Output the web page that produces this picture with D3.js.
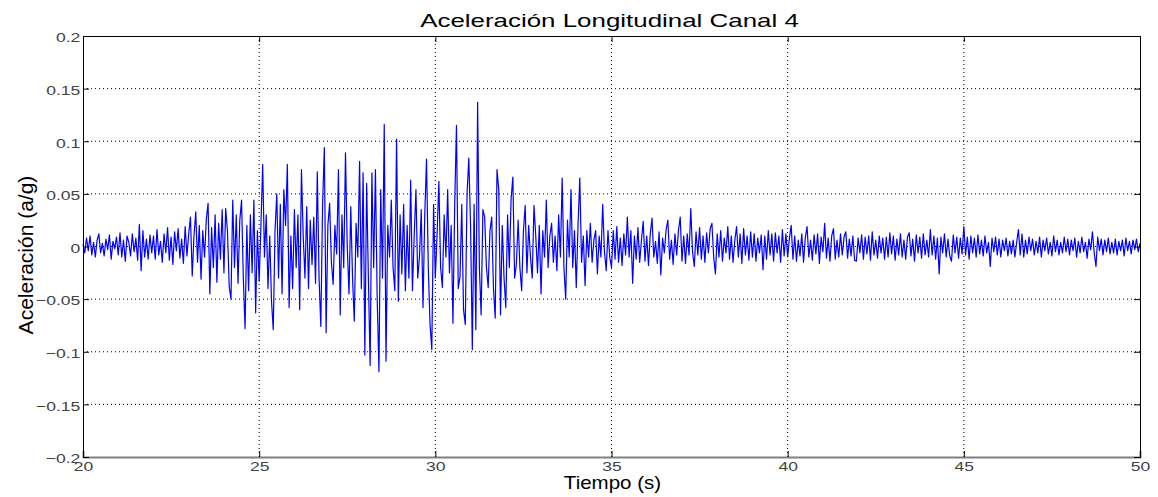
<!DOCTYPE html>
<html>
<head>
<meta charset="utf-8">
<style>
  body { margin: 0; background: #fff; }
  text { font-family: "Liberation Sans", Arial, sans-serif; }
</style>
<script src="https://d3js.org/d3.v7.min.js"></script>
</head>
<body>
<svg width="1158" height="497"></svg>
<script>
// datos, muestreo cada 0.05 s desde t = 20 s
var t0 = 20, dt = 0.05;
var s20 = [0.002,-0.006,0.008,-0.004,0.010,-0.008,0.004,-0.010,0.006,0.012,-0.006,0.003,-0.009,0.007,-0.003,0.011,-0.012,0.005,-0.002,0.009,
           -0.008,0.013,-0.010,0.006,-0.014,0.010,0.004,-0.009,0.012,-0.005,0.008,-0.013,0.021,-0.023,0.015,-0.010,0.007,-0.012,0.011,-0.006,
           0.010,-0.012,0.016,-0.008,0.005,-0.015,0.012,-0.006,0.018,-0.013,0.009,-0.017,0.014,-0.004,0.017,-0.011,0.007,-0.016,0.019,-0.009,
           0.012,0.028,-0.028,0.010,0.033,-0.015,0.020,-0.031,0.015,-0.010,0.026,0.041,-0.045,0.018,-0.020,0.030,-0.034,0.022,-0.012,0.035,
           -0.025,0.036,0.015,-0.038,-0.050,0.044,-0.020,0.030,-0.035,0.025,0.044,-0.030,-0.078,0.020,-0.042,0.030,-0.025,0.044,-0.063,0.015];
var s25 = [-0.033,0.020,0.078,-0.010,0.030,-0.040,0.010,-0.052,-0.079,0.015,0.050,-0.030,0.040,-0.045,0.054,0.020,0.078,-0.058,0.010,-0.040,
           0.035,-0.020,0.030,-0.060,0.073,0.010,-0.030,0.038,-0.040,0.025,-0.017,0.028,-0.035,0.071,-0.030,-0.076,0.040,0.094,-0.082,0.020,
           0.041,-0.015,-0.036,0.020,-0.007,0.073,-0.065,0.030,-0.020,0.089,0.000,-0.045,0.038,-0.030,-0.071,0.022,-0.010,0.081,-0.040,0.070,
           -0.103,0.060,-0.030,-0.113,0.070,-0.020,0.073,-0.050,-0.119,0.054,-0.030,0.116,-0.109,0.020,-0.010,0.044,-0.020,-0.042,0.102,-0.052,
           0.030,-0.026,0.040,-0.042,0.020,-0.030,0.063,-0.042,0.010,0.054,-0.030,-0.010,0.035,-0.058,0.030,0.083,-0.020,-0.074,-0.098,0.040];
var s30 = [-0.030,0.012,0.062,-0.020,-0.039,0.030,-0.010,0.054,-0.025,0.020,-0.073,0.040,0.115,-0.040,-0.029,0.040,-0.060,-0.074,0.050,0.084,
           0.020,-0.098,0.040,-0.079,0.137,-0.020,-0.065,0.035,0.028,-0.020,-0.039,0.015,0.028,-0.040,-0.068,0.073,0.054,-0.065,0.020,-0.030,
           -0.058,0.030,-0.020,0.045,0.066,-0.030,-0.017,0.025,-0.020,-0.042,0.015,0.039,-0.025,0.020,-0.010,-0.030,0.039,0.010,-0.025,0.020,
           -0.045,0.015,-0.010,0.044,-0.020,0.010,0.022,-0.015,0.010,-0.023,0.030,-0.010,0.065,-0.020,-0.050,0.025,-0.010,0.054,-0.020,0.015,
           -0.039,0.020,0.065,-0.015,0.010,-0.037,0.015,-0.010,0.022,-0.015,0.006,0.015,-0.026,0.010,-0.010,0.040,-0.005,-0.023,0.015,-0.010];
var s35 = [-0.020,0.015,-0.012,0.019,-0.015,0.008,-0.018,0.012,-0.008,0.028,-0.010,0.015,-0.035,0.010,-0.012,0.018,-0.015,0.006,0.024,-0.014,
           0.010,-0.018,0.012,0.027,-0.010,0.005,-0.016,0.014,-0.027,0.008,-0.006,0.016,0.025,-0.012,0.006,-0.017,0.012,-0.008,0.015,0.028,
           -0.014,0.010,-0.016,0.012,-0.008,0.036,-0.005,-0.019,0.014,-0.008,0.018,-0.012,0.010,-0.015,0.013,-0.006,0.017,0.022,-0.010,-0.026,
           0.012,-0.010,0.015,-0.014,0.008,-0.006,0.019,-0.012,0.010,-0.015,0.006,0.019,-0.010,0.012,-0.016,0.017,-0.008,0.010,-0.013,0.014,
           -0.010,0.012,-0.014,0.008,-0.006,0.011,-0.022,0.010,-0.012,0.015,-0.008,0.012,-0.014,0.013,-0.006,0.010,-0.015,0.016,-0.009,0.012];
var s40 = [-0.010,0.008,0.020,-0.012,0.010,-0.014,0.006,-0.009,0.012,-0.015,0.008,0.019,-0.010,0.006,-0.013,0.011,-0.007,0.012,-0.016,0.009,
           -0.005,0.022,-0.011,0.008,-0.014,0.010,0.017,-0.012,0.006,-0.010,0.012,-0.008,0.009,0.014,-0.011,0.007,-0.009,0.010,-0.013,-0.014,
           0.008,-0.006,0.011,-0.012,0.009,-0.007,0.010,-0.013,0.014,-0.008,0.006,-0.011,0.010,-0.006,0.008,-0.012,0.009,-0.010,0.013,-0.007,
           0.010,-0.013,0.007,-0.008,0.012,-0.010,0.006,-0.012,0.009,0.013,-0.009,0.007,-0.014,0.011,-0.006,0.009,-0.011,0.012,-0.008,0.006,
           -0.010,0.016,-0.008,0.010,-0.012,0.008,-0.026,0.009,-0.006,0.012,-0.010,0.007,-0.009,-0.014,0.011,-0.006,0.009,-0.011,0.008,-0.007];
var s45 = [0.019,-0.008,0.009,-0.012,0.010,-0.006,0.008,-0.010,0.011,-0.007,0.006,-0.009,0.010,-0.006,0.004,-0.019,0.008,-0.005,0.009,-0.008,
           0.007,-0.010,0.006,-0.004,0.008,-0.009,0.005,-0.007,0.006,-0.010,0.004,0.016,-0.008,0.012,-0.010,0.006,-0.007,0.009,-0.004,0.007,
           -0.008,0.005,-0.006,0.009,-0.010,0.006,-0.004,0.008,-0.007,0.004,-0.009,0.010,-0.005,0.006,-0.008,0.004,-0.006,0.009,-0.005,0.007,
           -0.008,0.006,-0.004,0.008,-0.010,0.005,-0.006,0.009,-0.005,0.004,-0.011,0.007,-0.003,0.014,-0.006,-0.019,0.009,-0.004,0.007,-0.008,
           0.006,-0.005,0.008,-0.007,0.004,-0.006,0.007,-0.008,0.005,-0.004,0.006,-0.009,0.008,-0.004,0.005,-0.007,0.006,-0.003,0.007,-0.005,
           0.003];
var aceleracion = s20.concat(s25, s30, s35, s40, s45);

var xTicks = [20, 25, 30, 35, 40, 45, 50];
var yTicks = [-0.2, -0.15, -0.1, -0.05, 0, 0.05, 0.1, 0.15, 0.2];

var svg = d3.select("svg"),
    margin = {top: 36, right: 18, bottom: 40, left: 83},
    width = +svg.attr("width") - margin.left - margin.right,
    height = +svg.attr("height") - margin.top - margin.bottom;

var x = d3.scaleLinear().domain([20, 50]).range([0, width]);
var y = d3.scaleLinear().domain([-0.2, 0.2]).range([height, 0]);

var g = svg.append("g")
    .attr("transform", "translate(" + margin.left + "," + margin.top + ")");

// rejilla punteada
g.append("g").selectAll("line")
  .data(xTicks.slice(1, -1))
  .enter().append("line")
  .attr("x1", function(d) { return x(d); })
  .attr("x2", function(d) { return x(d); })
  .attr("y1", 0).attr("y2", height)
  .attr("stroke", "#000").attr("stroke-width", 1)
  .attr("stroke-dasharray", "1,3");

g.append("g").selectAll("line")
  .data(yTicks.slice(1, -1))
  .enter().append("line")
  .attr("y1", function(d) { return y(d); })
  .attr("y2", function(d) { return y(d); })
  .attr("x1", 0).attr("x2", width)
  .attr("stroke", "#000").attr("stroke-width", 1)
  .attr("stroke-dasharray", "1,3");

// senal
var line = d3.line()
  .x(function(d, i) { return x(t0 + i * dt); })
  .y(function(d) { return y(d); });

g.append("path")
  .datum(aceleracion)
  .attr("fill", "none")
  .attr("stroke", "#0000ff")
  .attr("stroke-width", 1.2)
  .attr("stroke-linejoin", "round")
  .attr("d", line);

// ejes con marcas hacia dentro
var fmt = function(d) { return d3.format("")(+d.toFixed(2)); };

var xAxis = g.append("g")
  .attr("transform", "translate(0," + height + ")")
  .call(d3.axisBottom(x).tickValues(xTicks).tickSize(-6).tickPadding(5).tickFormat(d3.format("d")));
var xAxisTop = g.append("g")
  .call(d3.axisTop(x).tickValues(xTicks).tickSize(-6).tickFormat(""));
var yAxis = g.append("g")
  .call(d3.axisLeft(y).tickValues(yTicks).tickSize(-6).tickPadding(2).tickFormat(fmt));
var yAxisRight = g.append("g")
  .attr("transform", "translate(" + width + ",0)")
  .call(d3.axisRight(y).tickValues(yTicks).tickSize(-6).tickFormat(""));

[xAxis, xAxisTop, yAxis, yAxisRight].forEach(function(a) {
  a.select(".domain").attr("stroke", "#000");
  a.selectAll(".tick line").attr("stroke", "#000");
  a.selectAll("text")
   .attr("font-family", "Liberation Sans, Arial, sans-serif")
   .attr("font-size", "13px")
   .attr("fill", "#444")
   .attr("transform", "scale(1.35,1)");
});
yAxis.selectAll("text").attr("dy", "0.45em");
xAxis.select(".domain").attr("stroke", "#808080").attr("stroke-width", 2);

// textos
svg.append("text")
  .attr("transform", "translate(" + (margin.left + width / 2 - 2) + ",27) scale(1.44,1)")
  .attr("text-anchor", "middle")
  .attr("font-size", "18px")
  .attr("fill", "#000")
  .text("Aceleración Longitudinal Canal 4");

svg.append("text")
  .attr("transform", "translate(" + (margin.left + width / 2 + 1) + ",489) scale(1.14,1)")
  .attr("text-anchor", "middle")
  .attr("font-size", "18px")
  .attr("fill", "#000")
  .text("Tiempo (s)");

svg.append("text")
  .attr("transform", "translate(33,255) rotate(-90)")
  .attr("text-anchor", "middle")
  .attr("font-size", "21px")
  .attr("fill", "#000")
  .text("Aceleración (a/g)");
</script>
</body>
</html>
